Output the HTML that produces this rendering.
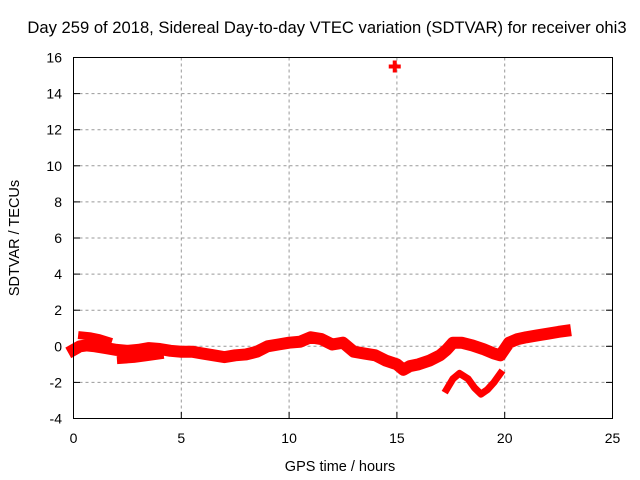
<!DOCTYPE html>
<html><head><meta charset="utf-8"><style>
body{margin:0;background:#fff}
svg{display:block;font-family:"Liberation Sans",sans-serif}
</style></head><body>
<svg id="chart" width="640" height="480" viewBox="0 0 640 480">
<text x="327" y="33" font-size="16.6" text-anchor="middle">Day 259 of 2018, Sidereal Day-to-day VTEC variation (SDTVAR) for receiver ohi3</text>
<g id="grid"></g>
<g id="ticks" font-size="14"></g>
<g id="marks"></g>
<rect x="73.5" y="57.5" width="539" height="361" fill="none" stroke="#000" stroke-width="1"/>
<text x="340" y="471" font-size="14.5" text-anchor="middle">GPS time / hours</text>
<text transform="translate(19,238) rotate(-90)" font-size="14.5" text-anchor="middle">SDTVAR / TECUs</text>
</svg>
<script>
const xTicks=[0,5,10,15,20,25];
const yTicks=[-4,-2,0,2,4,6,8,10,12,14,16];
const mainT=[0,0.3,0.6,1,1.5,2,2.5,3,3.5,4,4.5,5,5.5,6,6.5,7,7.5,8,8.5,9,9.5,10,10.5,11,11.5,12,12.5,13,13.5,14,14.5,15,15.3,15.6,16,16.5,17,17.3,17.6,18,18.5,19,19.5,19.8,20.2,20.6,21,21.5,22,22.5,22.8];
const mainV=[-0.2,0,0.05,0,-0.1,-0.2,-0.25,-0.2,-0.1,-0.15,-0.25,-0.3,-0.3,-0.4,-0.5,-0.6,-0.5,-0.45,-0.3,0,0.1,0.2,0.25,0.5,0.4,0.1,0.2,-0.3,-0.4,-0.5,-0.8,-1.0,-1.3,-1.1,-1.0,-0.8,-0.5,-0.2,0.2,0.2,0.05,-0.15,-0.4,-0.5,0.2,0.4,0.5,0.6,0.7,0.8,0.85];
const upperT=[0.4,0.8,1.2,1.6];
const upperV=[0.6,0.55,0.45,0.3];
const lowerT=[2.2,2.8,3.4,4.0];
const lowerV=[-0.75,-0.7,-0.6,-0.5];
const dipT=[17.3,17.6,17.9,18.3,18.6,18.9,19.2,19.5,19.8];
const dipV=[-2.4,-1.8,-1.5,-1.8,-2.3,-2.65,-2.4,-2.0,-1.5];
const outT=[14.9];
const outV=[15.5];
const X=t=>73.5+t*539/25, Y=v=>418.5-(v+4)*361/20;
const NS='http://www.w3.org/2000/svg';
const g=document.getElementById('grid'),tk=document.getElementById('ticks'),mk=document.getElementById('marks');
function el(n,a,p){const e=document.createElementNS(NS,n);for(const k in a)e.setAttribute(k,a[k]);p.appendChild(e);return e;}
xTicks.forEach(t=>{const x=X(t);
 if(t>0&&t<25){const l=el('line',{x1:x,x2:x,y1:57.5,y2:418.5,stroke:'#999','stroke-dasharray':'3,3'},g);
 
 }
 el('line',{x1:x,x2:x,y1:418.5,y2:412,stroke:'#000'},g);
 const s=el('text',{x:x,y:443,'text-anchor':'middle'},tk);s.textContent=t;
 
 });
yTicks.forEach(v=>{const y=Y(v);
 if(v>-4&&v<16){const l=el('line',{x1:73.5,x2:612.5,y1:y,y2:y,stroke:'#999','stroke-dasharray':'3,3'},g);
 
 }
 el('line',{x1:73.5,x2:80,y1:y,y2:y,stroke:'#000'},g);
 el('line',{x1:606,x2:612.5,y1:y,y2:y,stroke:'#000'},g);
 const s=el('text',{x:62,y:y+5,'text-anchor':'end'},tk);s.textContent=v;
 
 });
function band(T,V,w,name){const p=el('polyline',{points:T.map((t,i)=>X(t)+','+Y(V[i])).join(' '),fill:'none',stroke:'#f00','stroke-width':w,'stroke-linejoin':'round','stroke-linecap':'square'},mk);
 
 }
band(mainT,mainV,12,'main-track');
band(upperT,upperV,8,'upper-track');
band(lowerT,lowerV,8,'lower-track');
band(dipT,dipV,7,'dip-track');
outT.forEach((t,i)=>{const x=X(t),y=Y(outV[i]);
 const p=el('path',{d:`M${x-6},${y}H${x+6}M${x},${y-6}V${y+6}`,stroke:'#f00','stroke-width':4},mk);
 
 });
</script>
</body></html>
